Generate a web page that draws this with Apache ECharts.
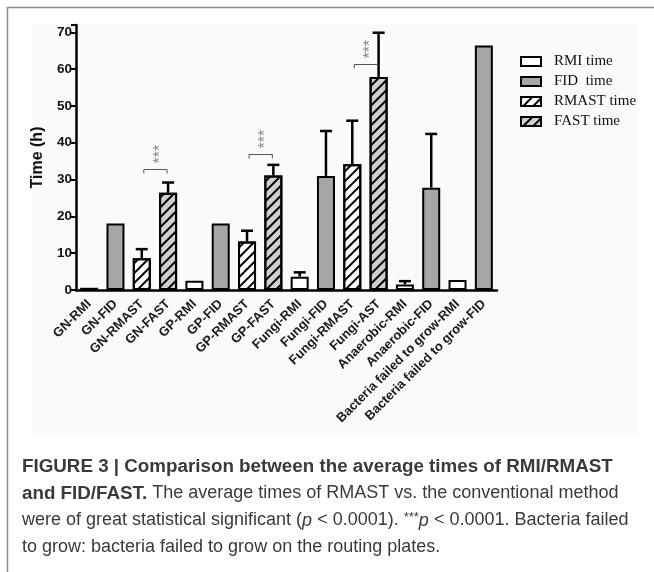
<!DOCTYPE html>
<html>
<head>
<meta charset="utf-8">
<script src="https://cdn.jsdelivr.net/npm/echarts@6/dist/echarts.min.js"></script>
<style>html,body{margin:0;padding:0;background:#fff}#c{width:654px;height:572px}</style>
</head>
<body>
<div id="c"></div>
<script>
// ---------- data ----------
const categories = ['GN-RMI','GN-FID','GN-RMAST','GN-FAST','GP-RMI','GP-FID','GP-RMAST','GP-FAST',
  'Fungi-RMI','Fungi-FID','Fungi-RMAST','Fungi-AST','Anaerobic-RMI','Anaerobic-FID',
  'Bacteria failed to grow-RMI','Bacteria failed to grow-FID'];
const rmiTime   = [0.6,'-','-','-',2.5,'-','-','-',3.6,'-','-','-',1.5,'-',2.7,'-'];
const fidTime   = ['-',18.1,'-','-','-',18.1,'-','-','-',31.0,'-','-','-',27.8,'-',66.4];
const rmastTime = ['-','-',8.6,'-','-','-',13.2,'-','-','-',34.2,'-','-','-','-','-'];
const fastTime  = ['-','-','-',26.4,'-','-','-',31.1,'-','-','-',57.9,'-','-','-','-'];
const errorSD   = [0,0,2.5,2.8,0,0,2.9,2.9,1.2,12.2,11.8,12.0,0.9,14.6,0,0];
const sigPairs  = [[2,3,32.8],[6,7,37.0],[10,11,61.3]];
const sigLabel  = '***';
const yTicks    = [0,10,20,30,40,50,60,70];
const legendNames = ['RMI time','FID  time','RMAST time','FAST time'];

// ---------- derived ----------
const allSeries = [rmiTime, fidTime, rmastTime, fastTime];
const errData = [];
categories.forEach((c, i) => {
  let v = null;
  allSeries.forEach(s => { if (s[i] !== '-') v = s[i]; });
  if (errorSD[i] > 0) errData.push([i, v, errorSD[i]]);
});

const chart = echarts.init(document.getElementById('c'), null, {renderer: 'canvas'});
const hatch = {
  symbol: 'rect', symbolSize: 1, dashArrayX: [1, 0], dashArrayY: [1.5, 4.5],
  rotation: -Math.PI / 4, color: '#000'
};
const barBase = {
  type: 'bar', barWidth: 18, barGap: '-100%',
  itemStyle: {borderColor: '#000', borderWidth: 2},
  emphasis: {disabled: true}
};

const captionLines = [
  '{b|FIGURE 3 | Comparison between the average times of RMI/RMAST}',
  '{b|and FID/FAST.} The average times of RMAST vs. the conventional method',
  'were of great statistical significant ({i|p} < 0.0001). {s|***}{i|p} < 0.0001. Bacteria failed',
  'to grow: bacteria failed to grow on the routing plates.'
];
const capFont = 'Liberation Sans, Arial, sans-serif';
const capRich = {
  b: {fontWeight: 'bold', fontSize: 18.8, color: '#1a1a1a', fontFamily: capFont},
  i: {fontStyle: 'italic', fontSize: 18, color: '#3a3a3a', fontFamily: capFont},
  s: {fontSize: 13, color: '#3a3a3a', fontFamily: capFont, verticalAlign: 'top', padding: [0,0,6,0]}
};

const graphics = [
  {type: 'rect', z: -100, silent: true, shape: {x: 31, y: 23, width: 607, height: 412},
   style: {fill: '#fafafa'}},
  {type: 'polyline', z: 100, silent: true, shape: {points: [[7.5, 572], [7.5, 7.5], [654, 7.5]]},
   style: {stroke: '#8c8c8c', lineWidth: 1.5, fill: null}}
];
captionLines.forEach((t, k) => {
  graphics.push({
    type: 'text', z: 100, left: 22, top: 457 + k * 27, silent: true,
    style: {text: t, rich: capRich, fontSize: 18, fill: '#3a3a3a', fontFamily: capFont}
  });
});

const option = {
  animation: false,
  backgroundColor: '#fff',
  textStyle: {fontFamily: 'Liberation Sans, Arial, sans-serif'},
  graphic: graphics,
  legend: {
    data: legendNames, orient: 'vertical', left: 515, top: 49,
    itemWidth: 20, itemHeight: 9, itemGap: 5, selectedMode: false,
    icon: 'rect',
    textStyle: {fontFamily: 'Liberation Serif, Times New Roman, serif', fontSize: 15, color: '#111',
      padding: [0, 0, 0, 8]}
  },
  grid: {left: 76, right: 157, top: 25, bottom: 282, containLabel: false},
  xAxis: {
    type: 'category', data: categories,
    axisLine: {lineStyle: {color: '#000', width: 2.5}},
    axisTick: {alignWithLabel: true, length: 5, lineStyle: {color: '#000', width: 2}},
    axisLabel: {rotate: 45, interval: 0, fontWeight: 'bold', fontSize: 13, color: '#1a1a1a', margin: 12,
      fontFamily: 'Liberation Sans, Arial, sans-serif'}
  },
  yAxis: {
    type: 'value', min: 0, max: 72, interval: 10,
    name: 'Time (h)', nameLocation: 'middle', nameGap: 30, nameRotate: 90,
    nameTextStyle: {fontWeight: 'bold', fontSize: 16, color: '#111'},
    axisLine: {show: true, lineStyle: {color: '#000', width: 2.5}},
    axisTick: {show: true, length: 5, lineStyle: {color: '#000', width: 2}},
    axisLabel: {fontWeight: 'bold', fontSize: 13.5, color: '#111', margin: 4,
      formatter: v => (yTicks.indexOf(v) >= 0 ? String(v) : '')},
    splitLine: {show: false}
  },
  series: [
    Object.assign({}, barBase, {name: legendNames[0], data: rmiTime,
      itemStyle: {color: '#ffffff', borderColor: '#000', borderWidth: 2}}),
    Object.assign({}, barBase, {name: legendNames[1], data: fidTime,
      itemStyle: {color: '#a6a6a6', borderColor: '#000', borderWidth: 2}}),
    Object.assign({}, barBase, {name: legendNames[2], data: rmastTime,
      itemStyle: {color: '#ffffff', borderColor: '#000', borderWidth: 2, decal: hatch}}),
    Object.assign({}, barBase, {name: legendNames[3], data: fastTime,
      itemStyle: {color: '#cfcfcf', borderColor: '#000', borderWidth: 2, decal: hatch}}),
    {
      type: 'custom', name: 'err', data: errData, z: 5, silent: true,
      encode: {x: 0, y: [1]},
      renderItem: (params, api) => {
        const i = api.value(0), v = api.value(1), e = api.value(2);
        const b = api.coord([i, v]);
        const t = api.coord([i, v + e]);
        return {type: 'group', children: [
          {type: 'line', shape: {x1: b[0], y1: b[1], x2: t[0], y2: t[1]},
           style: {stroke: '#000', lineWidth: 2.5}},
          {type: 'line', shape: {x1: t[0] - 6, y1: t[1], x2: t[0] + 6, y2: t[1]},
           style: {stroke: '#000', lineWidth: 2.5}}
        ]};
      }
    },
    {
      type: 'custom', name: 'sig', data: sigPairs, z: 5, silent: true,
      encode: {x: [0, 1], y: 2},
      renderItem: (params, api) => {
        const a = api.coord([api.value(0), api.value(2)]);
        const c = api.coord([api.value(1), api.value(2)]);
        const x1 = a[0] + 2, x2 = c[0] - 1, y = Math.round(a[1]) + 0.5;
        return {type: 'group', children: [
          {type: 'polyline', shape: {points: [[x1, y + 4], [x1, y], [x2, y], [x2, y + 4]]},
           style: {stroke: '#555', lineWidth: 1, fill: null}},
          {type: 'text', x: (x1 + x2) / 2 + 5, y: y - 6, rotation: Math.PI / 2,
           style: {text: sigLabel, fill: '#888', fontSize: 16, align: 'left', verticalAlign: 'middle',
             fontFamily: 'Liberation Sans, Arial, sans-serif'}}
        ]};
      }
    }
  ]
};
chart.setOption(option);
</script>
</body>
</html>
